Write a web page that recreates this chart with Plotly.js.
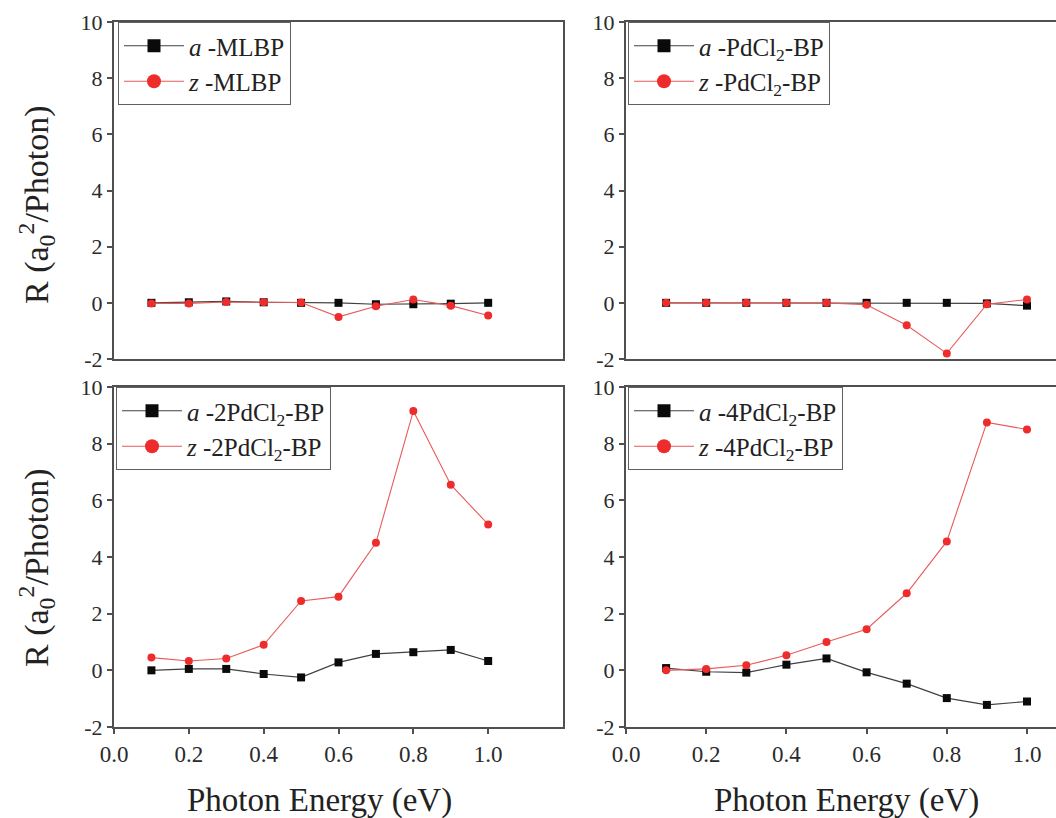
<!DOCTYPE html>
<html>
<head>
<meta charset="utf-8">
<script src="https://cdn.plot.ly/plotly-3.0.1.min.js"></script>
<style>html,body{margin:0;padding:0;background:#fff;}#chart{width:1056px;height:818px;}</style>
</head>
<body>
<div id="chart"></div>
<script>
// ---- data ----
const energy = [0.1, 0.2, 0.3, 0.4, 0.5, 0.6, 0.7, 0.8, 0.9, 1.0];

const aMLBP = [0.0, 0.02, 0.05, 0.02, 0.0, 0.0, -0.05, -0.05, -0.03, 0.0];
const zMLBP = [-0.02, -0.02, 0.03, 0.02, 0.01, -0.5, -0.12, 0.12, -0.1, -0.45];

const aPd1 = [0.0, 0.0, 0.0, 0.0, 0.0, 0.0, 0.0, 0.0, -0.02, -0.1];
const zPd1 = [0.0, 0.0, 0.0, 0.0, 0.0, -0.07, -0.8, -1.8, -0.05, 0.12];

const aPd2 = [0.0, 0.05, 0.05, -0.13, -0.25, 0.28, 0.58, 0.64, 0.72, 0.33];
const zPd2 = [0.45, 0.33, 0.42, 0.9, 2.45, 2.6, 4.5, 9.15, 6.55, 5.15];

const aPd4 = [0.08, -0.05, -0.08, 0.2, 0.42, -0.07, -0.47, -0.98, -1.22, -1.1];
const zPd4 = [0.0, 0.05, 0.18, 0.53, 1.0, 1.45, 2.72, 4.55, 8.75, 8.5];

const namesA = ['<i>a</i> -MLBP', '<i>a</i> -PdCl<sub>2</sub>-BP', '<i>a</i> -2PdCl<sub>2</sub>-BP', '<i>a</i> -4PdCl<sub>2</sub>-BP'];
const namesZ = ['<i>z</i> -MLBP', '<i>z</i> -PdCl<sub>2</sub>-BP', '<i>z</i> -2PdCl<sub>2</sub>-BP', '<i>z</i> -4PdCl<sub>2</sub>-BP'];

const xTickVals = [0.0, 0.2, 0.4, 0.6, 0.8, 1.0];
const xTickText = ['0.0', '0.2', '0.4', '0.6', '0.8', '1.0'];
const yTickVals = [-2, 0, 2, 4, 6, 8, 10];
const yTickText = ['-2', '0', '2', '4', '6', '8', '10'];

const xTitle = 'Photon Energy (eV)';
const yTitle = 'R (a<sub>0</sub><sup>2</sup>/Photon)';

// ---- build ----
const W = 1056, H = 818;
const SERIF = 'Liberation Serif';
const blackLine = '#404040', redLine = '#e85a5a', redMarker = '#ee2c2c', blackMarker = '#0a0a0a';

const panelsA = [aMLBP, aPd1, aPd2, aPd4];
const panelsZ = [zMLBP, zPd1, zPd2, zPd4];

const traces = [];
for (let i = 0; i < 4; i++) {
  const ax = i === 0 ? '' : String(i + 1);
  const lg = i === 0 ? 'legend' : 'legend' + (i + 1);
  traces.push({
    x: energy, y: panelsA[i], name: namesA[i], type: 'scatter', mode: 'lines+markers',
    xaxis: 'x' + ax, yaxis: 'y' + ax, showlegend: false,
    line: {color: blackLine, width: 1.2},
    marker: {symbol: 'square', size: 8, color: blackMarker}
  });
  traces.push({
    x: energy, y: panelsZ[i], name: namesZ[i], type: 'scatter', mode: 'lines+markers',
    xaxis: 'x' + ax, yaxis: 'y' + ax, showlegend: false,
    line: {color: redLine, width: 1.1},
    marker: {symbol: 'circle', size: 8, color: redMarker}
  });
  // legend keys (larger symbols, as in the reference legend)
  traces.push({
    x: [null], y: [null], name: namesA[i], type: 'scatter', mode: 'lines+markers',
    xaxis: 'x' + ax, yaxis: 'y' + ax, legend: lg,
    line: {color: blackLine, width: 1.2},
    marker: {symbol: 'square', size: 13, color: blackMarker}
  });
  traces.push({
    x: [null], y: [null], name: namesZ[i], type: 'scatter', mode: 'lines+markers',
    xaxis: 'x' + ax, yaxis: 'y' + ax, legend: lg,
    line: {color: redLine, width: 1.1},
    marker: {symbol: 'circle', size: 14, color: redMarker}
  });
}

const leftX = [114 / W, 563 / W];
const rightX = [626 / W, 1];
const topY = [1 - 359 / H, 1 - 22 / H];
const botY = [1 - 727 / H, 1 - 387 / H];
const rightRange = [0, (W - 626) / 401];

function makeX(domain, range, anchor, showLabels) {
  return {
    domain: domain, range: range, anchor: anchor,
    showgrid: false, zeroline: false,
    showline: true, linecolor: '#505050', linewidth: 2, mirror: true,
    ticks: showLabels ? 'outside' : '', ticklen: 5, tickwidth: 1.5, tickcolor: '#505050',
    tickvals: xTickVals, ticktext: xTickText, showticklabels: showLabels,
    tickfont: {family: SERIF, size: 23, color: '#2a2a2a'}
  };
}
function makeY(domain, anchor, mirror) {
  return {
    domain: domain, range: [-2, 10], anchor: anchor,
    showgrid: false, zeroline: false,
    showline: true, linecolor: '#505050', linewidth: 2, mirror: mirror,
    ticks: 'outside', ticklen: 5, tickwidth: 1.5, tickcolor: '#505050',
    tickvals: yTickVals, ticktext: yTickText,
    tickfont: {family: SERIF, size: 22, color: '#2a2a2a'}
  };
}

function makeLegend(x, y) {
  return {
    x: x, y: y, xanchor: 'left', yanchor: 'top', xref: 'paper', yref: 'paper',
    bgcolor: '#ffffff', bordercolor: '#606060', borderwidth: 1,
    font: {family: SERIF, size: 25, color: '#222'},
    itemwidth: 60, tracegroupgap: 0
  };
}

const layout = {
  width: W, height: H,
  margin: {l: 0, r: 0, t: 0, b: 0},
  paper_bgcolor: '#fff', plot_bgcolor: '#fff',
  showlegend: true,
  font: {family: SERIF, color: '#222'},
  xaxis: makeX(leftX, [0, 1.2], 'y', false),
  yaxis: makeY(topY, 'x', true),
  xaxis2: makeX(rightX, rightRange, 'y2', false),
  yaxis2: makeY(topY, 'x2', false),
  xaxis3: makeX(leftX, [0, 1.2], 'y3', true),
  yaxis3: makeY(botY, 'x3', true),
  xaxis4: makeX(rightX, rightRange, 'y4', true),
  yaxis4: makeY(botY, 'x4', false),
  legend: makeLegend(118 / W, 1 - 22 / H),
  legend2: makeLegend(628 / W, 1 - 22 / H),
  legend3: makeLegend(116 / W, 1 - 387 / H),
  legend4: makeLegend(628 / W, 1 - 387 / H),
  annotations: [
    {text: yTitle, xref: 'paper', yref: 'paper', x: 36 / W, y: 1 - 205 / H, textangle: -90,
     showarrow: false, xanchor: 'center', yanchor: 'middle', font: {family: SERIF, size: 34, color: '#222'}},
    {text: yTitle, xref: 'paper', yref: 'paper', x: 36 / W, y: 1 - 568 / H, textangle: -90,
     showarrow: false, xanchor: 'center', yanchor: 'middle', font: {family: SERIF, size: 34, color: '#222'}},
    {text: xTitle, xref: 'x3', yref: 'paper', x: 0.55, y: 1 - 800 / H,
     showarrow: false, xanchor: 'center', yanchor: 'middle', font: {family: SERIF, size: 33, color: '#222'}},
    {text: xTitle, xref: 'x4', yref: 'paper', x: 0.55, y: 1 - 800 / H,
     showarrow: false, xanchor: 'center', yanchor: 'middle', font: {family: SERIF, size: 33, color: '#222'}}
  ]
};

Plotly.newPlot('chart', traces, layout, {displayModeBar: false});
</script>
</body>
</html>
